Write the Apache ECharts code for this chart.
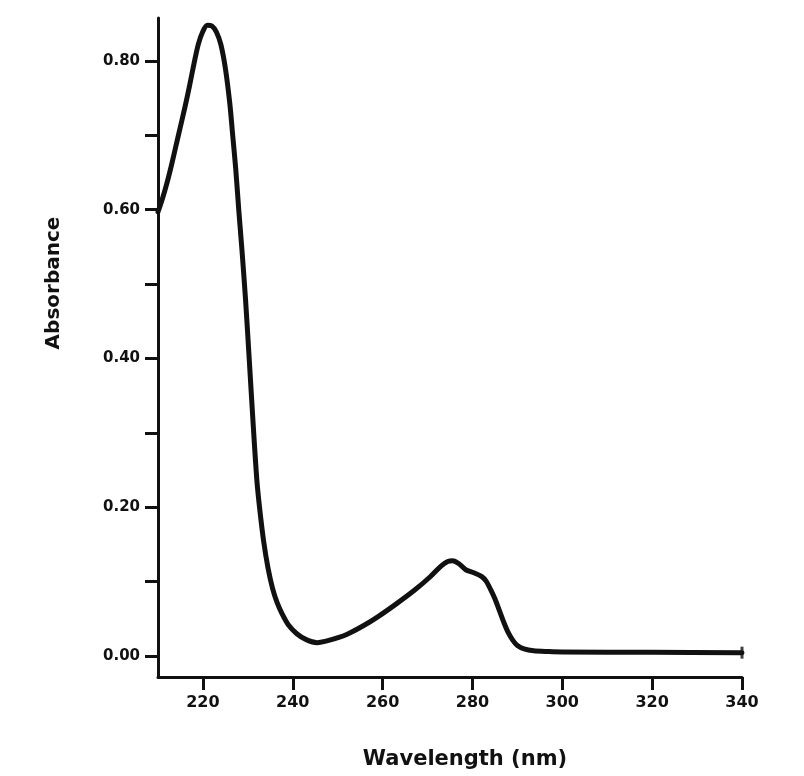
<!DOCTYPE html>
<html>
<head>
<meta charset="utf-8">
<script src="https://cdn.jsdelivr.net/npm/echarts@6/dist/echarts.min.js"></script>
<style>html,body{margin:0;padding:0;background:#fff}#c{width:804px;height:776px}</style>
</head>
<body>
<div id="c"></div>
<script>
const wavelength = [210, 211, 212, 213, 214, 215, 216, 217, 218, 219, 220, 221, 222, 223, 224, 225, 226, 226.6, 227.3, 228, 228.7, 229.5, 230.3, 231.2, 232, 232.6, 233.5, 234.5, 235.5, 236.5, 237.6, 239, 240.9, 243, 245.4, 248, 252, 255.8, 259, 263.2, 267, 270.6, 273, 274.5, 275.6, 277, 278.5, 280.3, 282, 283, 284, 285, 286, 287, 288, 289, 290, 291.5, 293.6, 297, 300, 320, 340];
const absorbance = [0.597, 0.615, 0.636, 0.660, 0.686, 0.712, 0.738, 0.766, 0.796, 0.823, 0.840, 0.848, 0.847, 0.839, 0.822, 0.790, 0.742, 0.702, 0.655, 0.598, 0.545, 0.478, 0.400, 0.310, 0.237, 0.200, 0.155, 0.118, 0.091, 0.072, 0.057, 0.042, 0.030, 0.022, 0.018, 0.021, 0.029, 0.041, 0.053, 0.0708, 0.088, 0.1066, 0.121, 0.127, 0.128, 0.124, 0.116, 0.112, 0.107, 0.101, 0.090, 0.077, 0.061, 0.045, 0.031, 0.021, 0.014, 0.0095, 0.007, 0.006, 0.0055, 0.005, 0.0045];
const xTicks = [220, 240, 260, 280, 300, 320, 340];
const yTicks = [0, 0.1, 0.2, 0.3, 0.4, 0.5, 0.6, 0.7, 0.8];
const yLabels = [0, 0.2, 0.4, 0.6, 0.8];
const xTitle = 'Wavelength (nm)';
const yTitle = 'Absorbance';

const ink = '#111';
const chart = echarts.init(document.getElementById('c'), null, {renderer: 'canvas'});
const points = wavelength.map((w, i) => [w, absorbance[i]]);
const last = points[points.length - 1];

chart.setOption({
  animation: false,
  backgroundColor: '#fff',
  grid: {left: 158, top: 18, width: 584, height: 659, containLabel: false},
  xAxis: {
    type: 'value', min: 210, max: 340,
    axisLine: {show: true, onZero: false, lineStyle: {color: ink, width: 3}},
    axisTick: {show: true, length: 13, inside: false, customValues: xTicks, lineStyle: {color: ink, width: 3}},
    axisLabel: {customValues: xTicks, margin: 18, color: ink, fontFamily: 'DejaVu Sans', fontWeight: 'bold', fontSize: 16},
    splitLine: {show: false}
  },
  yAxis: {
    type: 'value', min: -0.0282, max: 0.8578,
    axisLine: {show: true, onZero: false, lineStyle: {color: ink, width: 3}},
    axisTick: {show: true, length: 13, inside: false, customValues: yTicks, lineStyle: {color: ink, width: 3}},
    axisLabel: {customValues: yLabels, margin: 18, color: ink, fontFamily: 'DejaVu Sans', fontWeight: 'bold', fontSize: 15,
      formatter: v => v.toFixed(2)},
    splitLine: {show: false}
  },
  series: [
    {
      type: 'line', data: points, showSymbol: false, smooth: 0.3, clip: false,
      lineStyle: {color: ink, width: 5, cap: 'round', join: 'round'}
    },
    {
      type: 'scatter', data: [last], symbol: 'rect', symbolSize: [3, 12],
      itemStyle: {color: ink}, silent: true
    }
  ],
  graphic: [
    {type: 'text', x: 465, y: 760, style: {text: xTitle, fill: ink, font: 'bold 21px "DejaVu Sans"', textAlign: 'center', textVerticalAlign: 'middle'}},
    {type: 'text', x: 54, y: 283, rotation: Math.PI / 2, style: {text: yTitle, fill: ink, font: 'bold 20px "DejaVu Sans"', textAlign: 'center', textVerticalAlign: 'middle'}}
  ]
});
</script>
</body>
</html>
